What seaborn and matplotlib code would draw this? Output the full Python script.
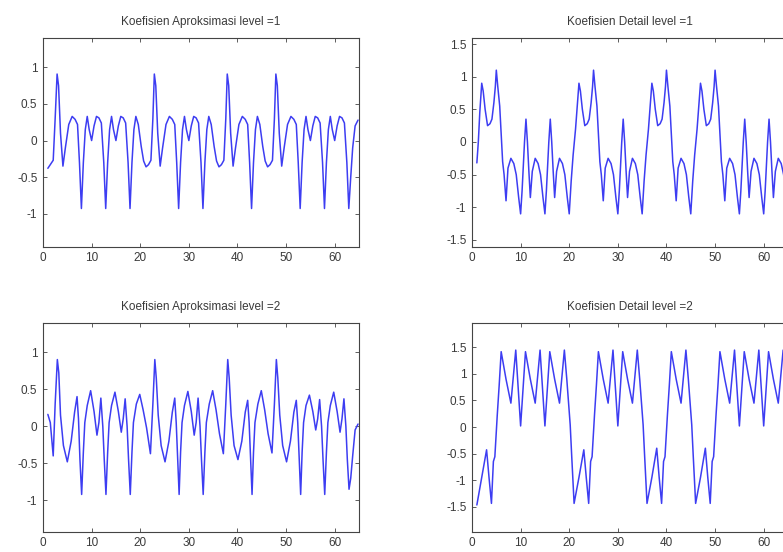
import matplotlib
matplotlib.use("Agg")
import matplotlib.pyplot as plt
import seaborn as sns
import pandas as pd

# ---------------- data ----------------
titles = ["Koefisien Aproksimasi level =1", "Koefisien Detail level =1",
          "Koefisien Aproksimasi level =2", "Koefisien Detail level =2"]

a1_x = [1.0, 1.5, 2.1, 2.5, 2.9, 3.2, 3.6, 4.1,
        4.6, 5.3, 6.0, 6.6, 7.1, 7.5, 7.9,
        8.3, 8.7, 9.1, 9.5, 10.0, 10.5, 11.0, 11.5, 12.0, 12.5, 12.9,
        13.3, 13.7, 14.1, 14.5, 15.0, 15.5, 16.0, 16.5, 17.0, 17.5, 17.9,
        18.3, 18.7, 19.1, 19.6, 20.2, 20.7, 21.2, 21.7, 22.2, 22.6, 22.9, 23.2, 23.6, 24.1,
        24.6, 25.3, 26.0, 26.6, 27.1, 27.5, 27.9,
        28.3, 28.7, 29.1, 29.5, 30.0, 30.5, 31.0, 31.5, 32.0, 32.5, 32.9,
        33.3, 33.7, 34.1, 34.6, 35.2, 35.7, 36.2, 36.7, 37.2, 37.6, 37.9, 38.2, 38.6, 39.1,
        39.6, 40.3, 41.0, 41.6, 42.1, 42.5, 42.9,
        43.3, 43.7, 44.1, 44.6, 45.2, 45.7, 46.2, 46.7, 47.2, 47.6, 47.9, 48.2, 48.6, 49.1,
        49.6, 50.3, 51.0, 51.6, 52.1, 52.5, 52.9,
        53.3, 53.7, 54.1, 54.5, 55.0, 55.5, 56.0, 56.5, 57.0, 57.5, 57.9,
        58.3, 58.7, 59.1, 59.5, 60.0, 60.5, 61.0, 61.5, 62.0, 62.5, 62.9,
        63.3, 63.7, 64.2, 64.8]
a1_y = [-0.38, -0.33, -0.27, 0.30, 0.91, 0.75, 0.10, -0.35,
        -0.10, 0.22, 0.33, 0.29, 0.22, -0.30, -0.93,
        -0.30, 0.15, 0.33, 0.15, 0.00, 0.20, 0.33, 0.31, 0.24, -0.30, -0.93,
        -0.30, 0.15, 0.33, 0.15, 0.00, 0.20, 0.33, 0.31, 0.24, -0.30, -0.93,
        -0.30, 0.15, 0.33, 0.22, -0.08, -0.28, -0.36, -0.33, -0.27, 0.30, 0.91, 0.75, 0.10, -0.35,
        -0.10, 0.22, 0.33, 0.29, 0.22, -0.30, -0.93,
        -0.30, 0.15, 0.33, 0.15, 0.00, 0.20, 0.33, 0.31, 0.24, -0.30, -0.93,
        -0.30, 0.15, 0.33, 0.22, -0.08, -0.28, -0.36, -0.33, -0.27, 0.30, 0.91, 0.75, 0.10, -0.35,
        -0.10, 0.22, 0.33, 0.29, 0.22, -0.30, -0.93,
        -0.30, 0.15, 0.33, 0.22, -0.08, -0.28, -0.36, -0.33, -0.27, 0.30, 0.91, 0.75, 0.10, -0.35,
        -0.10, 0.22, 0.33, 0.29, 0.22, -0.30, -0.93,
        -0.30, 0.15, 0.33, 0.15, 0.00, 0.20, 0.33, 0.31, 0.24, -0.30, -0.93,
        -0.30, 0.15, 0.33, 0.15, 0.00, 0.20, 0.33, 0.31, 0.24, -0.30, -0.93,
        -0.50, -0.10, 0.20, 0.28]

d1_x = [1.0, 1.3, 1.6, 2.0, 2.3, 2.7, 3.2, 3.7, 4.1, 4.5, 4.8, 5.0, 5.3, 5.7, 6.3, 6.6, 7.0,
        7.4, 8.0, 8.6, 9.1, 9.6, 10.0,
        10.3, 10.6, 10.8, 11.1, 11.4, 11.7, 12.0, 12.4, 13.0, 13.6, 14.1, 14.6, 15.0,
        15.3, 15.6, 15.8, 16.1, 16.4, 16.7, 17.0, 17.4, 18.0, 18.6, 19.1, 19.6, 20.0,
        20.4, 20.8, 21.3, 21.6, 22.0, 22.3, 22.7, 23.2, 23.7, 24.1, 24.5, 24.8, 25.0, 25.3, 25.7, 26.3, 26.6, 27.0,
        27.4, 28.0, 28.6, 29.1, 29.6, 30.0,
        30.3, 30.6, 30.8, 31.1, 31.4, 31.7, 32.0, 32.4, 33.0, 33.6, 34.1, 34.6, 35.0,
        35.4, 35.8, 36.3, 36.6, 37.0, 37.3, 37.7, 38.2, 38.7, 39.1, 39.5, 39.8, 40.0, 40.3, 40.7, 41.3, 41.6, 42.0,
        42.4, 43.0, 43.6, 44.1, 44.6, 45.0,
        45.4, 45.8, 46.3, 46.6, 47.0, 47.3, 47.7, 48.2, 48.7, 49.1, 49.5, 49.8, 50.0, 50.3, 50.7, 51.3, 51.6, 52.0,
        52.4, 53.0, 53.6, 54.1, 54.6, 55.0,
        55.3, 55.6, 55.8, 56.1, 56.4, 56.7, 57.0, 57.4, 58.0, 58.6, 59.1, 59.6, 60.0,
        60.3, 60.6, 60.8, 61.1, 61.4, 61.7, 62.0, 62.4, 63.0, 63.6, 64.1, 64.6, 65.0]
d1_y = [-0.32, 0.00, 0.45, 0.90, 0.78, 0.50, 0.25, 0.28, 0.35, 0.60, 0.85, 1.10, 0.85, 0.55, -0.30, -0.50, -0.90,
        -0.40, -0.25, -0.33, -0.50, -0.85, -1.10,
        -0.75, -0.30, 0.00, 0.35, 0.00, -0.45, -0.85, -0.45, -0.25, -0.33, -0.50, -0.85, -1.10,
        -0.75, -0.30, 0.00, 0.35, 0.00, -0.45, -0.85, -0.45, -0.25, -0.33, -0.50, -0.85, -1.10,
        -0.60, -0.20, 0.20, 0.50, 0.90, 0.78, 0.50, 0.25, 0.28, 0.35, 0.60, 0.85, 1.10, 0.85, 0.55, -0.30, -0.50, -0.90,
        -0.40, -0.25, -0.33, -0.50, -0.85, -1.10,
        -0.75, -0.30, 0.00, 0.35, 0.00, -0.45, -0.85, -0.45, -0.25, -0.33, -0.50, -0.85, -1.10,
        -0.60, -0.20, 0.20, 0.50, 0.90, 0.78, 0.50, 0.25, 0.28, 0.35, 0.60, 0.85, 1.10, 0.85, 0.55, -0.30, -0.50, -0.90,
        -0.40, -0.25, -0.33, -0.50, -0.85, -1.10,
        -0.60, -0.20, 0.20, 0.50, 0.90, 0.78, 0.50, 0.25, 0.28, 0.35, 0.60, 0.85, 1.10, 0.85, 0.55, -0.30, -0.50, -0.90,
        -0.40, -0.25, -0.33, -0.50, -0.85, -1.10,
        -0.75, -0.30, 0.00, 0.35, 0.00, -0.45, -0.85, -0.45, -0.25, -0.33, -0.50, -0.85, -1.10,
        -0.75, -0.30, 0.00, 0.35, 0.00, -0.45, -0.85, -0.45, -0.25, -0.33, -0.50, -0.85, -1.10]

a2_x = [1.0, 1.5, 2.1, 2.5, 2.95, 3.25, 3.6, 4.2, 5.0, 5.8, 6.5, 7.0, 7.3, 7.6, 7.95,
        8.3, 8.6, 9.1, 9.8, 10.5, 11.1, 11.5, 11.9, 12.3, 12.6, 12.95,
        13.3, 13.6, 14.1, 14.8, 15.5, 16.1, 16.5, 16.9, 17.3, 17.6, 17.95,
        18.3, 18.6, 19.2, 19.9, 20.6, 21.3, 22.1, 22.6, 23.0, 23.3, 23.7, 24.3, 25.1,
        25.9, 26.6, 27.1, 27.4, 27.7, 28.0,
        28.3, 28.6, 29.1, 29.8, 30.5, 31.1, 31.5, 31.9, 32.3, 32.6, 32.95,
        33.3, 33.6, 34.2, 34.9, 35.6, 36.3, 37.1, 37.6, 38.0, 38.3, 38.7, 39.3, 40.1,
        40.9, 41.6, 42.1, 42.4, 42.7, 43.0,
        43.3, 43.6, 44.2, 44.9, 45.6, 46.3, 47.1, 47.6, 48.0, 48.3, 48.7, 49.3, 50.1,
        50.9, 51.6, 52.1, 52.4, 52.7, 53.0,
        53.3, 53.6, 54.1, 54.8, 55.5, 56.1, 56.5, 56.9, 57.3, 57.6, 57.95,
        58.3, 58.6, 59.1, 59.8, 60.5, 61.1, 61.5, 61.9, 62.3, 62.6, 62.95,
        63.3, 63.7, 64.2, 64.8]
a2_y = [0.16, 0.05, -0.40, 0.30, 0.90, 0.72, 0.15, -0.26, -0.48, -0.20, 0.19, 0.40, 0.10, -0.45, -0.92,
        -0.35, 0.05, 0.28, 0.48, 0.20, -0.12, 0.05, 0.38, 0.00, -0.45, -0.92,
        -0.35, 0.05, 0.28, 0.46, 0.20, -0.08, 0.10, 0.37, 0.00, -0.45, -0.92,
        -0.35, 0.05, 0.30, 0.43, 0.22, -0.02, -0.37, 0.30, 0.90, 0.65, 0.15, -0.26, -0.48,
        -0.20, 0.19, 0.38, 0.05, -0.45, -0.92,
        -0.35, 0.05, 0.28, 0.47, 0.20, -0.12, 0.05, 0.38, 0.00, -0.45, -0.92,
        -0.35, 0.05, 0.30, 0.48, 0.22, -0.10, -0.37, 0.30, 0.90, 0.65, 0.15, -0.26, -0.45,
        -0.20, 0.19, 0.35, 0.05, -0.45, -0.92,
        -0.35, 0.05, 0.30, 0.48, 0.22, -0.10, -0.36, 0.30, 0.90, 0.65, 0.15, -0.26, -0.48,
        -0.20, 0.19, 0.35, 0.05, -0.45, -0.92,
        -0.35, 0.05, 0.28, 0.42, 0.20, -0.05, 0.10, 0.36, 0.00, -0.45, -0.92,
        -0.35, 0.05, 0.28, 0.46, 0.20, -0.08, 0.10, 0.37, 0.00, -0.45, -0.85,
        -0.70, -0.40, -0.05, 0.03]

d2_x = [1.0, 2.0, 3.0, 3.5, 4.0, 4.4, 4.7, 5.2, 5.6, 6.0, 7.0, 8.0, 9.0, 10.0, 11.0, 12.0, 13.0,
        14.0, 15.0, 16.0, 17.0, 18.0, 19.0, 19.5, 20.2, 20.5, 21.0, 22.0, 23.0, 23.5, 24.0,
        24.4, 24.7, 25.2, 25.6, 26.0, 27.0, 28.0, 29.0, 30.0, 31.0, 32.0, 33.0, 34.0, 34.5,
        35.2, 35.5, 36.0, 37.0, 38.0, 38.5, 39.0, 39.4, 39.7, 40.2, 40.6, 41.0, 42.0, 43.0,
        44.0, 44.5, 45.2, 45.5, 46.0, 47.0, 48.0, 48.5, 49.0, 49.4, 49.7, 50.2, 50.6, 51.0,
        52.0, 53.0, 54.0, 55.0, 56.0, 57.0, 58.0, 59.0, 60.0, 61.0, 62.0, 63.0, 64.0, 65.0]
d2_y = [-1.47, -0.95, -0.43, -0.95, -1.44, -0.65, -0.56, 0.23, 0.80, 1.42, 0.90, 0.45, 1.45, 0.02, 1.42, 0.90, 0.45,
        1.45, 0.02, 1.42, 0.90, 0.45, 1.45, 0.90, 0.04, -0.53, -1.44, -0.95, -0.43, -0.95, -1.44,
        -0.65, -0.56, 0.23, 0.80, 1.42, 0.90, 0.45, 1.45, 0.02, 1.42, 0.90, 0.45, 1.45, 0.90,
        0.04, -0.53, -1.44, -0.95, -0.40, -0.95, -1.44, -0.65, -0.56, 0.23, 0.80, 1.42, 0.90, 0.45,
        1.45, 0.90, 0.04, -0.53, -1.44, -0.95, -0.40, -0.95, -1.44, -0.65, -0.56, 0.23, 0.80, 1.42,
        0.90, 0.45, 1.45, 0.02, 1.42, 0.90, 0.45, 1.45, 0.02, 1.42, 0.90, 0.45, 1.45, 0.02]

x_ticks = [0, 10, 20, 30, 40, 50, 60]
x_tick_labels = ["0", "10", "20", "30", "40", "50", "60"]
y_ticks_small = [-1, -0.5, 0, 0.5, 1]
y_labels_small = ["-1", "-0.5", "0", "0.5", "1"]
y_ticks_big = [-1.5, -1, -0.5, 0, 0.5, 1, 1.5]
y_labels_big = ["-1.5", "-1", "-0.5", "0", "0.5", "1", "1.5"]

# ---------------- style ----------------
sns.set_style("ticks")
plt.rcParams['font.family'] = ['Liberation Sans', 'DejaVu Sans']

fig = plt.figure(figsize=(7.83, 5.52), dpi=100)
fig.patch.set_facecolor("white")

W, H = 316 / 783, 209 / 552
L1, L2 = 43 / 783, 472 / 783
B1, B2 = (552 - 246.5) / 552, (552 - 531.5) / 552

panels = [
    (a1_x, a1_y, [L1, B1, W, H], (-1.45, 1.41), y_ticks_small, y_labels_small),
    (d1_x, d1_y, [L2, B1, W, H], (-1.6, 1.6), y_ticks_big, y_labels_big),
    (a2_x, a2_y, [L1, B2, W, H], (-1.42, 1.40), y_ticks_small, y_labels_small),
    (d2_x, d2_y, [L2, B2, W, H], (-1.97, 1.97), y_ticks_big, y_labels_big),
]

line_color = "#3d3df2"
text_color = "#3a3a3a"

for (xs, ys, pos, ylim, yt, ytl), title in zip(panels, titles):
    ax = fig.add_axes(pos)
    df = pd.DataFrame({"x": xs, "y": ys})
    sns.lineplot(data=df, x="x", y="y", ax=ax, color=line_color, lw=1.1,
                 estimator=None, sort=False)
    ax.set_xlim(0, 65)
    ax.set_ylim(*ylim)
    ax.set_xticks(x_ticks)
    ax.set_xticklabels(x_tick_labels)
    ax.set_yticks(yt)
    ax.set_yticklabels(ytl)
    ax.set_xlabel("")
    ax.set_ylabel("")
    ax.tick_params(direction="in", top=True, right=True, length=3, width=0.6,
                   color="#444444", labelsize=8.5, labelcolor=text_color, pad=4)
    for s in ax.spines.values():
        s.set_visible(True)
        s.set_color("#444444")
        s.set_linewidth(0.8)
    ax.set_facecolor("white")
    ax.set_title(title, fontsize=8.5, color=text_color, pad=9)

fig.savefig("out.png", dpi=100)
